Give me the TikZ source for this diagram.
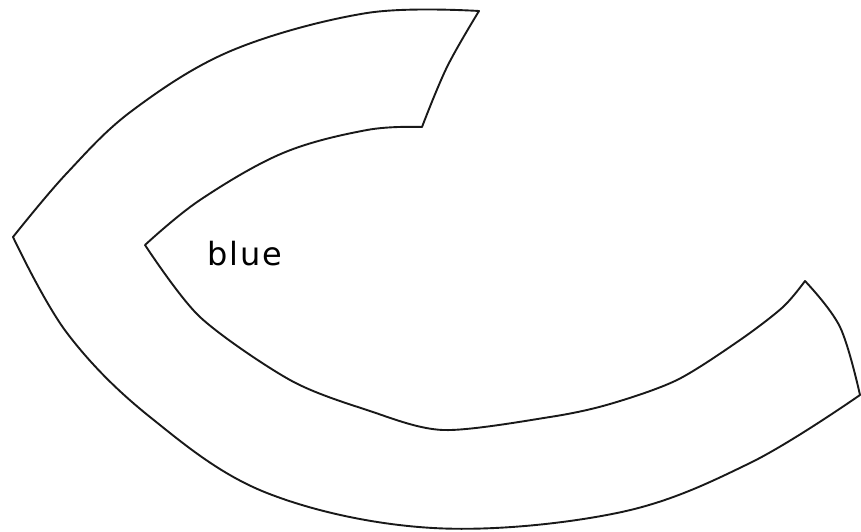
\documentclass[tikz,border=0pt]{standalone}
\usepackage{fontspec}
\setmainfont{DejaVu Sans}
\usetikzlibrary{positioning}

\tikzset{
  edge/.style={line width=1.9pt,line join=round,draw=black!90},
  tag/.style={font=\fontsize{32}{36}\selectfont\addfontfeature{LetterSpace=6}}
}

\begin{document}
\begin{tikzpicture}[x=1pt,y=-1pt]
  \useasboundingbox (0,0) rectangle (861,532);
  % the C-shaped band
  \draw[edge]
    plot[smooth,tension=0.6] coordinates {(479,11) (367,13) (233,50) (133,110) (67,173) (13,237)}
    -- plot[smooth,tension=0.6] coordinates {(13,237) (67,333) (150,417) (267,493) (433,528) (617,513) (750,463) (860,395)}
    -- plot[smooth,tension=0.6] coordinates {(860,395) (840,327) (805,281)}
    -- plot[smooth,tension=0.5] coordinates {(805,281) (783,307) (740,340) (677,380) (610,404) (550,417) (443,430) (367,410) (290,380) (200,317) (145,245)}
    -- plot[smooth,tension=0.6] coordinates {(145,245) (200,200) (283,153) (367,130) (422,127)}
    -- plot[smooth,tension=0.6] coordinates {(422,127) (447,67) (479,11)}
    -- cycle;
  \node[tag] (lbl) at (245,254) {blue};
\end{tikzpicture}
\end{document}
